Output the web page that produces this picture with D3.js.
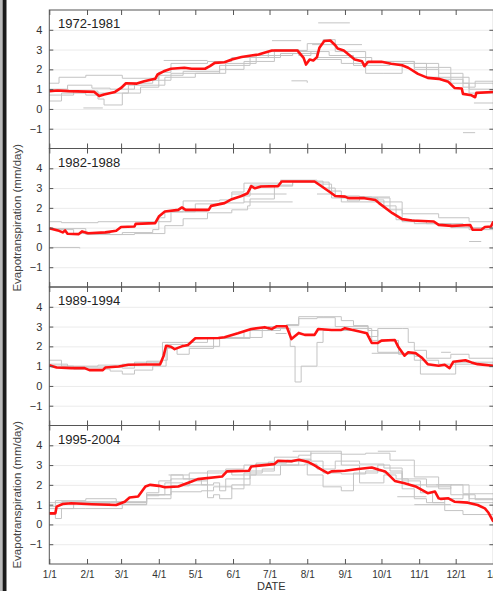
<!DOCTYPE html>
<html>
<head>
<meta charset="utf-8">
<script src="https://cdn.jsdelivr.net/npm/d3@7"></script>
<style>
  body { margin: 0; background: #fff; }
  svg { display: block; font-family: "Liberation Sans", Arial, sans-serif; }
</style>
</head>
<body>
<svg id="main-chart-svg" width="493" height="591"></svg>
<script>
// periods shown, one panel each
const periods = ["1972-1981", "1982-1988", "1989-1994", "1995-2004"];
// day of year where each month starts, and its label
const monthStarts = [0, 31, 59, 90, 120, 151, 181, 212, 243, 273, 304, 334, 365];
const monthLabels = ["1/1", "2/1", "3/1", "4/1", "5/1", "6/1", "7/1", "8/1", "9/1", "10/1", "11/1", "12/1", "1/1"];
const yTicks = [-1, 0, 1, 2, 3, 4];

// mean ET per period (red), [day, mm/day]
const mean1 = [[0,0.9],[7,0.93],[16,0.9],[37,0.86],[41,0.65],[45,0.73],[54,0.86],[59,1.06],[63,1.3],[72,1.28],[78,1.4],[87,1.52],[89,1.74],[94,1.9],[100,2.03],[111,2.08],[117,2.03],[128,2.03],[132,2.16],[136,2.33],[144,2.36],[150,2.5],[158,2.62],[166,2.7],[172,2.75],[176,2.83],[183,2.95],[204,2.95],[209,2.58],[211,2.24],[214,2.5],[217,2.45],[220,2.62],[222,3.09],[226,3.43],[231,3.46],[235,3.22],[237,3.05],[242,2.95],[246,2.75],[251,2.5],[257,2.41],[259,2.16],[262,2.38],[273,2.38],[281,2.28],[290,2.21],[295,2.08],[303,1.77],[311,1.57],[320,1.52],[328,1.37],[333,1.06],[339,1.03],[340,0.76],[347,0.69],[350,0.59],[351,0.81],[365,0.86]];
const mean2 = [[0,0.97],[7,0.86],[11,0.76],[13,0.86],[15,0.69],[24,0.67],[27,0.81],[32,0.72],[46,0.76],[55,0.84],[59,1.03],[70,1.06],[71,1.19],[87,1.23],[90,1.56],[95,1.82],[106,1.9],[109,2.02],[112,1.9],[131,1.9],[133,2.1],[144,2.24],[150,2.44],[158,2.6],[163,2.74],[166,3.1],[169,2.99],[174,3.08],[188,3.1],[191,3.33],[218,3.33],[224,3.08],[232,2.74],[235,2.6],[243,2.57],[246,2.49],[259,2.49],[268,2.4],[271,2.24],[282,1.73],[290,1.43],[298,1.36],[316,1.31],[320,1.14],[331,1.09],[346,1.13],[348,0.89],[355,0.89],[358,1.03],[363,1.06],[365,1.31]];
const mean3 = [[0,1.05],[6,0.93],[18,0.9],[29,0.9],[33,0.8],[44,0.8],[46,0.93],[57,0.98],[65,1.07],[79,1.08],[91,1.08],[94,1.53],[96,2.03],[100,1.98],[103,1.86],[109,2.0],[114,2.07],[120,2.41],[139,2.42],[144,2.46],[155,2.66],[166,2.88],[177,2.97],[183,2.88],[187,3.02],[195,3.02],[199,2.37],[205,2.68],[210,2.58],[218,2.58],[221,2.88],[232,2.83],[240,2.83],[243,2.92],[254,2.76],[261,2.66],[265,2.17],[270,2.17],[273,2.29],[284,2.32],[287,1.95],[292,1.53],[295,1.7],[301,1.66],[306,1.44],[311,1.1],[320,1.02],[325,1.07],[329,0.9],[332,1.22],[342,1.3],[347,1.19],[352,1.1],[365,1.02]];
const mean4 = [[0,0.56],[5,0.56],[6,0.9],[11,1.03],[18,1.07],[35,1.02],[55,0.98],[62,1.15],[66,1.36],[73,1.41],[79,1.92],[83,2.0],[90,1.95],[95,1.88],[106,1.92],[117,2.17],[122,2.29],[142,2.42],[146,2.68],[164,2.71],[166,2.93],[185,3.05],[188,3.22],[199,3.19],[205,3.27],[213,3.15],[218,2.98],[224,2.76],[229,2.59],[232,2.68],[243,2.71],[254,2.8],[265,2.88],[271,2.76],[276,2.68],[284,2.2],[292,2.08],[301,1.92],[311,1.58],[317,1.66],[320,1.32],[322,1.29],[328,1.32],[333,1.15],[344,1.1],[352,0.98],[358,0.81],[361,0.59],[365,0.14]];
const means = [mean1, mean2, mean3, mean4];

// single years (gray), [day, mm/day], null splits a line
const years1 = [
  [[0,1.3],[8,1.6],[30,1.7],[60,1.55],[90,1.85],[100,2.3],[130,2.4],[150,2.6],[180,2.9],[205,2.95],[212,3.3],[225,3.5],[235,2.9],[260,2.4],[300,2.3],[320,1.8],[340,1.3],[365,1.2]],
  [[0,0.4],[10,0.8],[30,0.7],[40,0.5],[45,0.2],[60,0.8],[75,1.1],[90,1.7],[110,1.9],[140,2.2],[165,2.6],[190,2.8],[205,2.7],[215,2.9],[230,2.7],[250,2.2],[260,1.8],[275,1.8],[290,2.3],[310,1.6],[330,1.3],[345,1.0],[365,0.9]],
  [[0,0.7],[20,0.9],[40,0.8],[65,1.2],[95,1.6],[120,1.8],[145,2.3],[170,2.7],[200,2.8],[220,2.5],[240,2.3],[260,2.2],[280,2.3],[300,2.0],[320,1.5],[340,1.1],[350,1.4],[365,1.0]],
  [[0,1.0],[15,1.2],[35,1.05],[50,1.0],[70,1.3],[85,1.45],[100,1.8],[140,2.0],[160,2.4],[185,3.0],[205,2.9],[220,2.6],[245,2.6],[265,2.4],[300,2.1],[330,1.6],[345,0.8],[365,0.7]],
  [[221,4.35],[247,4.35],null,[183,3.45],[207,3.45],null,[216,3.25],[257,3.25],null,[199,1.42],[212,1.32],null,[340,-1.2],[350,-1.2],null,[349,0.3],[365,0.3],null,[28,0.05],[44,0.05],null,[94,2.45],[130,2.45]]
];
const years2 = [
  [[0,1.3],[10,1.25],[40,1.3],[90,1.5],[95,1.8],[110,2.35],[140,2.4],[150,2.8],[160,3.25],[190,3.4],[220,3.35],[225,3.0],[235,2.6],[255,2.55],[260,2.5],[270,2.3],[290,1.7],[320,1.5],[345,1.3],[365,1.1]],
  [[0,0.95],[30,0.65],[60,0.75],[85,0.9],[90,1.3],[100,1.8],[120,2.2],[140,2.25],[160,2.6],[165,3.15],[200,3.35],[215,3.3],[230,2.85],[240,2.3],[255,2.3],[270,2.4],[275,2.1],[285,1.4],[300,1.2],[340,1.15],[345,0.9],[365,1.05]],
  [[0,0.9],[20,0.7],[50,0.65],[70,0.7],[95,1.1],[110,1.45],[130,1.75],[150,1.9],[163,2.1],[165,2.45],[185,3.1],[200,3.3],[220,3.2],[232,2.5],[245,2.35],[255,2.55],[265,2.5],[280,1.9],[290,1.3],[310,1.2],[330,1.0],[365,0.95]],
  [[0,0.0],[25,-0.05],null,[100,1.8],[130,1.8],null,[160,2.3],[200,2.3],null,[150,2.7],[195,2.7],null,[220,2.7],[232,2.7],null,[255,2.55],[280,2.55],null,[345,0.3],[355,0.3]]
];
const years3 = [
  [[0,1.3],[10,1.0],[40,1.05],[60,1.1],[80,1.25],[90,1.25],[93,2.2],[110,2.2],[130,2.45],[160,2.8],[180,3.0],[195,3.05],[205,3.5],[225,3.5],[240,3.3],[250,3.05],[262,2.5],[270,2.9],[290,2.9],[295,2.2],[300,1.8],[310,1.4],[330,1.6],[345,1.4],[365,1.3]],
  [[0,1.0],[20,0.85],[50,0.75],[60,0.6],[70,0.8],[85,1.0],[92,1.0],[96,1.9],[105,1.6],[115,1.9],[135,2.4],[165,2.8],[190,2.9],[198,2.0],[202,0.2],[207,1.0],[215,1.0],[220,2.2],[225,2.8],[250,2.9],[265,2.3],[283,2.3],[287,1.6],[300,1.5],[305,0.6],[330,0.6],[334,1.2],[365,1.0]],
  [[0,1.1],[15,0.95],[60,0.9],[70,1.2],[85,1.2],[93,1.3],[97,2.1],[110,2.0],[140,2.45],[175,2.9],[195,3.1],[205,3.4],[220,3.45],[235,3.0],[262,2.8],[270,1.7],[290,1.65],[300,1.3],[320,1.1],[340,1.1],[365,1.1]],
  [[265,1.65],[290,1.65],null,[322,1.7],[330,1.7],null,[186,2.65],[195,2.65]]
];
const years4 = [
  [[0,0.9],[5,1.2],[30,1.3],[55,1.1],[80,1.45],[90,1.5],[100,2.5],[110,2.3],[125,2.0],[130,2.6],[140,2.6],[145,2.8],[160,3.0],[180,3.15],[200,3.2],[212,2.5],[225,1.9],[240,1.7],[250,2.6],[270,3.0],[280,2.7],[290,1.8],[300,1.3],[310,1.1],[325,0.7],[340,0.5],[365,0.9]],
  [[0,0.5],[5,0.3],[10,0.8],[30,0.8],[60,1.0],[80,1.3],[100,1.65],[125,1.7],[135,1.9],[150,1.8],[160,2.6],[175,2.8],[185,3.0],[210,3.05],[220,2.8],[235,3.2],[255,3.05],[275,2.85],[290,2.3],[310,1.9],[330,1.5],[345,1.1],[365,0.7]],
  [[0,1.1],[15,1.05],[50,1.0],[60,1.1],[80,1.5],[95,2.1],[110,2.0],[135,2.1],[140,1.7],[145,2.3],[165,2.7],[185,3.4],[205,3.5],[215,3.6],[240,3.0],[255,2.1],[275,2.5],[285,2.3],[295,2.0],[305,1.6],[315,1.1],[325,1.3],[340,1.5],[350,1.25],[365,1.3]],
  [[0,0.8],[20,1.1],[60,1.0],[80,1.6],[90,2.2],[100,2.3],[120,2.2],[130,1.35],[135,1.5],[140,1.3],[150,2.0],[165,2.5],[190,3.0],[205,3.3],[215,3.2],[225,2.6],[240,2.55],[260,2.7],[275,2.6],[290,2.2],[305,2.0],[320,1.8],[330,2.0],[345,1.3],[365,0.9]],
  [[10,1.15],[50,1.15],[80,1.5],[100,1.95],[115,2.6],[130,2.7],[150,2.5],[170,3.1],[195,3.25],[215,3.7],[230,3.7],[240,3.55],[260,3.6],[280,3.25],[300,2.4],[320,2.0],[340,1.55],[365,1.2]],
  [[98,2.5],[115,2.5],null,[200,3.7],[215,3.7],null,[270,3.7],[285,3.7],null,[318,2.0],[331,2.0],null,[286,1.4],[310,1.4],null,[300,1.0],[330,1.0]]
];
const yearsAll = [years1, years2, years3, years4];

const svg = d3.select("#main-chart-svg");
const left = 49.3, right = 493.4, top0 = 10, panelH = 138.5;

// page edge strip at left
svg.append("rect").attr("x", 0).attr("y", 0).attr("width", 2).attr("height", 591).attr("fill", "#bbb");
svg.append("rect").attr("x", 2.5).attr("y", 0).attr("width", 4).attr("height", 591).attr("fill", "#1a1a1a");

const x = d3.scaleLinear().domain([0, 365]).range([left, right]);

periods.forEach((name, i) => {
    const top = top0 + i * panelH;
    const y = d3.scaleLinear().domain([-2, 5]).range([top + panelH, top]);
    const g = svg.append("g");

    // grid
    g.append("g")
    .attr("transform", `translate(${left},0)`)
    .call(d3.axisLeft(y).tickValues(yTicks).tickSize(-(right - left)).tickFormat(""))
    .call(a => a.select(".domain").remove())
    .selectAll("line").attr("stroke", "#ebebeb");

    const line = d3.line()
    .defined(d => d !== null)
    .x(d => x(d[0]))
    .y(d => y(d[1]));

    yearsAll[i].forEach(s => {
        g.append("path")
        .attr("d", line.curve(d3.curveStepAfter)(s))
        .attr("fill", "none")
        .attr("stroke", "#c4c4c4")
        .attr("stroke-width", 1);
    });

    g.append("path")
    .attr("d", line.curve(d3.curveLinear)(means[i]))
    .attr("fill", "none")
    .attr("stroke", "#ff1111")
    .attr("stroke-width", 2.6)
    .attr("stroke-linejoin", "round");

    // axes
    let yAxis = d3.axisLeft(y).tickValues(yTicks).tickSize(-4).tickPadding(7).tickFormat(d3.format("d"));
    g.append("g").attr("transform", `translate(${left},0)`).call(yAxis);

    g.append("g").attr("transform", `translate(${right},0)`)
    .call(d3.axisRight(y).tickValues(yTicks).tickSize(-4).tickFormat(""));

    g.append("g").attr("transform", `translate(0,${top})`)
    .call(d3.axisTop(x).tickValues(monthStarts).tickSize(-5).tickFormat(""));

    let xAxis = d3.axisBottom(x).tickValues(monthStarts).tickSize(-5).tickPadding(7)
    .tickFormat((d, k) => i === periods.length - 1 ? monthLabels[k] : "");
    g.append("g").attr("transform", `translate(0,${top + panelH})`).call(xAxis);

    g.selectAll(".domain").remove();
    g.selectAll(".tick line").filter(function() { return this.getAttribute("stroke") === "currentColor"; })
    .attr("stroke", "#555");
    g.selectAll(".tick text").attr("fill", "#333").attr("font-size", 11)
    .attr("font-family", "Liberation Sans, Arial, sans-serif");

    g.append("rect")
    .attr("x", left).attr("y", top)
    .attr("width", right - left).attr("height", panelH)
    .attr("fill", "none").attr("stroke", "#555").attr("stroke-width", 1);

    g.append("text")
    .attr("x", 58).attr("y", top + 18)
    .attr("font-size", 13).attr("fill", "#222")
    .text(name);

    if (i % 2 === 1) {
        g.append("text")
        .attr("transform", `translate(21,${top + panelH / 2}) rotate(-90)`)
        .attr("text-anchor", "middle")
        .attr("font-size", 11.5).attr("fill", "#444")
        .text("Evapotranspiration (mm/day)");
    }
});

// smaller month labels on the last panel
svg.selectAll("g g text").filter(function() { return /\d+\/\d+/.test(this.textContent); })
.attr("font-size", 10);

svg.append("text")
.attr("x", (left + right) / 2).attr("y", 590)
.attr("text-anchor", "middle")
.attr("font-size", 11).attr("fill", "#333")
.text("DATE");
</script>
</body>
</html>
